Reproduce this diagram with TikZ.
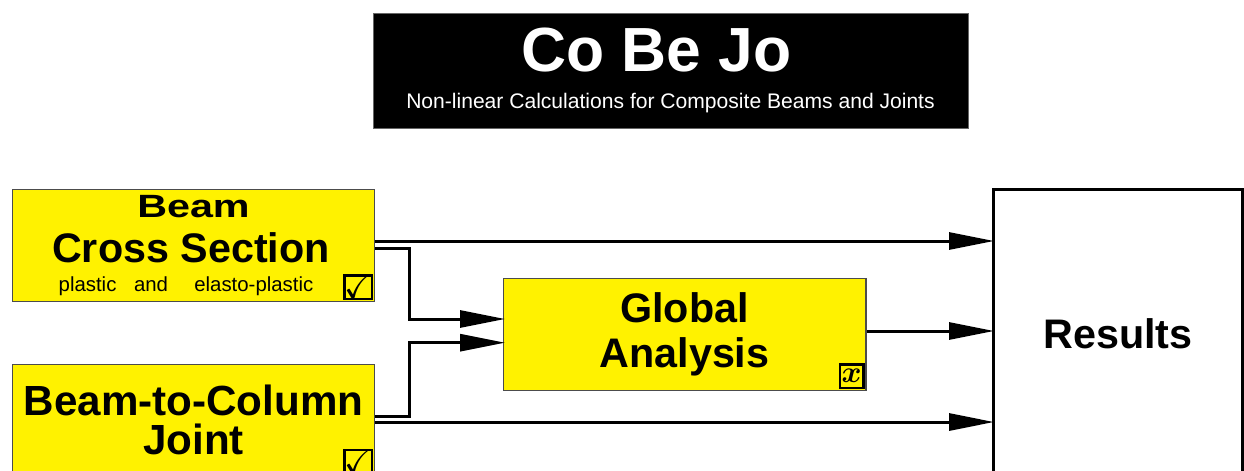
\documentclass[tikz,border=0pt]{standalone}
\usepackage{amssymb}
\usepackage{fontspec}
\setmainfont{Liberation Sans}
\usetikzlibrary{arrows.meta, positioning}

\begin{document}
\begin{tikzpicture}[
        x=0.02cm, y=-0.02cm,               % one unit = one pixel of the layout
        block/.style={
            rectangle,
            draw=black!70,
            line width=0.6pt,
            fill=yellow,
            minimum width=7.26cm,
            minimum height=2.24cm,
            inner sep=0pt,
            align=center,
            font=\bfseries\fontsize{23.5}{25.6}\selectfont
        },
        checkbox/.style={
            rectangle,
            draw=black,
            line width=1.3pt,
            fill=yellow,
            minimum size=0.47cm,
            inner sep=0pt,
            font=\fontsize{19}{19}\selectfont\boldmath
        },
        link/.style={
            draw,
            line width=0.06cm,
            shorten >=-0.05cm,
            -{Triangle[length=0.9cm, width=0.34cm]}
        }
    ]
    \useasboundingbox (0,0) rectangle (1244,470);
    \clip (0,0) rectangle (1244,470);

    % --- TITLE ---
    \node [fill=black, draw=black!60, text=white, align=center, inner sep=0pt,
           minimum width=11.9cm, minimum height=2.3cm,
           font=\fontsize{12}{21}\selectfont] (title) at (670.5,70.5) {
        {\bfseries\fontsize{35.5}{36}\selectfont Co Be Jo\hspace*{0.56cm}} \\
        Non-linear Calculations for Composite Beams and Joints
    };

    % --- BLOCKS ---
    \node [block] (beam) at (193.5,245.5) {
        \scalebox{1}[0.78]{Beam} \\
        Cross Section\hspace*{0.1cm} \\[-9.1pt]
        {\mdseries\fontsize{11.6}{12}\selectfont plastic\hspace{10pt}and\hspace{15pt}elasto-plastic\hspace*{0.3cm}}
    };

    \node [block, below=1.23cm of beam, font=\bfseries\fontsize{24}{22.2}\selectfont] (joint) {
        Beam-to-Column \\
        Joint
    };

    \node [block] (global) at (684.5,334.5) {
        Global \\
        Analysis
    };

    \node [draw, line width=0.06cm, minimum width=5cm, minimum height=5.8cm,
           font=\bfseries\fontsize{23.5}{25}\selectfont] (results) at (1118,334) {Results};

    % --- CHECKBOXES ---
    \node [checkbox, anchor=south east] (beamok) at ([xshift=-0.04cm, yshift=0.04cm]beam.south east) {$\checkmark$};
    \node [checkbox, anchor=south east] (jointok) at ([xshift=-0.04cm, yshift=0.04cm]joint.south east) {$\checkmark$};
    \node [checkbox, anchor=south east] (globalno) at ([xshift=-0.04cm, yshift=0.04cm]global.south east) {$x$};

    % --- LINKS ---
    \path [link] ([yshift=0.09cm]beam.east) -- ([yshift=0.09cm]beam.east -| results.west);
    \path [link] ([yshift=-0.05cm]beam.east) -- ++(34,0) |- ([yshift=0.31cm]global.west);
    \path [link] ([yshift=0.08cm]joint.east) -- ++(34,0) |- ([yshift=-0.164cm]global.west);
    \path [link] ([yshift=-0.04cm]joint.east) -- ([yshift=-0.04cm]joint.east -| results.west);
    \path [link] ([yshift=0.07cm]global.east) -- ([yshift=0.07cm]global.east -| results.west);
\end{tikzpicture}
\end{document}
